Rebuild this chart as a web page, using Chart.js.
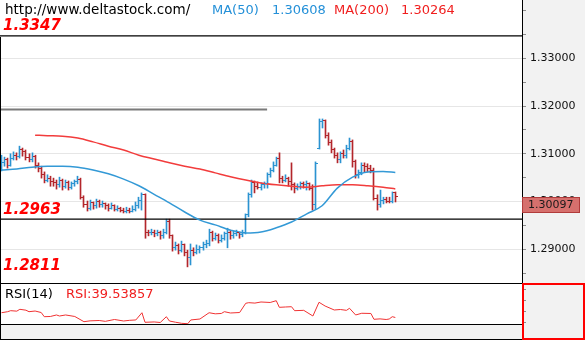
<!DOCTYPE html>
<html>
<head>
<meta charset="utf-8">
<script src="https://cdn.jsdelivr.net/npm/chart.js@4.4.1/dist/chart.umd.min.js"></script>
<style>
  html, body { margin: 0; padding: 0; background: #fff; }
  #wrap { position: relative; width: 585px; height: 340px; }
  #priceChart { position: absolute; left: 0; top: 0; }
  #rsiChart { position: absolute; left: 0; top: 283px; }
</style>
</head>
<body>
<div id="wrap">
  <canvas id="priceChart" width="585" height="283"></canvas>
  <canvas id="rsiChart" width="585" height="57"></canvas>
</div>
<script>
// OHLC bars, one per slot (index 0..129)
const opens = [
  1.3072,1.3081,1.3087,1.3076,1.3091,1.3097,1.3095,1.3108,1.3104,1.3093,
  1.3087,1.3095,1.3076,1.3070,1.3056,1.3045,1.3049,1.3041,1.3039,1.3035,
  1.3043,1.3032,1.3039,1.3030,1.3037,1.3041,1.3047,1.3009,1.2993,1.2986,
  1.2997,1.2991,1.2999,1.2993,1.2995,1.2991,1.2986,1.2991,1.2984,1.2986,
  1.2982,1.2980,1.2982,1.2980,1.2984,1.2991,1.3003,1.3014,1.2936,1.2934,
  1.2936,1.2932,1.2934,1.2928,1.2936,1.2959,1.2928,1.2903,1.2907,1.2898,
  1.2909,1.2894,1.2882,1.2898,1.2894,1.2900,1.2903,1.2909,1.2913,1.2936,
  1.2923,1.2928,1.2919,1.2923,1.2932,1.2936,1.2928,1.2932,1.2934,1.2930,
  1.2936,1.2972,1.3014,1.3039,1.3032,1.3030,1.3035,1.3037,1.3056,1.3066,
  1.3076,1.3091,1.3049,1.3045,1.3049,1.3041,1.3035,1.3028,1.3032,1.3037,
  1.3035,1.3037,1.3028,1.2993,1.3112,1.3167,1.3169,1.3139,1.3123,1.3108,
  1.3097,1.3087,1.3100,1.3097,1.3112,1.3125,1.3083,1.3056,1.3060,1.3076,
  1.3074,1.3070,1.3066,1.3007,1.2993,1.3003,1.3005,1.3001,1.2999,1.3018
];
const highs = [
  1.3097,1.3093,1.3091,1.3100,1.3104,1.3102,1.3116,1.3112,1.3108,1.3100,
  1.3102,1.3097,1.3081,1.3074,1.3062,1.3056,1.3053,1.3049,1.3045,1.3051,
  1.3047,1.3045,1.3043,1.3041,1.3045,1.3053,1.3049,1.3012,1.3001,1.3003,
  1.2999,1.3005,1.3003,1.3001,1.2997,1.2995,1.2997,1.2993,1.2991,1.2988,
  1.2986,1.2988,1.2986,1.2991,1.2999,1.3009,1.3018,1.3016,1.2940,1.2942,
  1.2940,1.2940,1.2938,1.2942,1.2963,1.2963,1.2930,1.2915,1.2911,1.2917,
  1.2911,1.2898,1.2911,1.2903,1.2909,1.2907,1.2915,1.2919,1.2942,1.2938,
  1.2934,1.2932,1.2930,1.2936,1.2944,1.2940,1.2938,1.2940,1.2936,1.2940,
  1.2974,1.3018,1.3045,1.3043,1.3041,1.3039,1.3041,1.3060,1.3070,1.3083,
  1.3093,1.3102,1.3053,1.3056,1.3051,1.3081,1.3039,1.3037,1.3041,1.3041,
  1.3043,1.3039,1.3035,1.3083,1.3173,1.3173,1.3171,1.3144,1.3129,1.3112,
  1.3102,1.3104,1.3108,1.3118,1.3133,1.3129,1.3087,1.3066,1.3081,1.3081,
  1.3079,1.3076,1.3070,1.3014,1.3024,1.3009,1.3009,1.3009,1.3020,1.3020
];
const lows = [
  1.3064,1.3074,1.3070,1.3074,1.3087,1.3087,1.3091,1.3095,1.3087,1.3083,
  1.3083,1.3070,1.3062,1.3049,1.3039,1.3041,1.3032,1.3032,1.3026,1.3030,
  1.3024,1.3028,1.3024,1.3026,1.3032,1.3037,1.3005,1.2988,1.2980,1.2982,
  1.2984,1.2986,1.2988,1.2988,1.2984,1.2980,1.2984,1.2980,1.2980,1.2978,
  1.2976,1.2976,1.2976,1.2978,1.2980,1.2986,1.2982,1.2923,1.2928,1.2930,
  1.2926,1.2928,1.2921,1.2923,1.2932,1.2923,1.2896,1.2898,1.2890,1.2894,
  1.2886,1.2863,1.2867,1.2886,1.2890,1.2892,1.2898,1.2903,1.2907,1.2917,
  1.2919,1.2913,1.2915,1.2919,1.2903,1.2921,1.2923,1.2928,1.2923,1.2926,
  1.2932,1.2968,1.3009,1.3018,1.3026,1.3024,1.3028,1.3028,1.3051,1.3062,
  1.3074,1.3039,1.3039,1.3041,1.3032,1.3024,1.3018,1.3024,1.3026,1.3028,
  1.3024,1.3024,1.2982,1.2984,1.3110,1.3154,1.3133,1.3118,1.3102,1.3091,
  1.3081,1.3081,1.3091,1.3091,1.3108,1.3072,1.3049,1.3049,1.3056,1.3062,
  1.3062,1.3060,1.3003,1.2982,1.2988,1.2995,1.2997,1.2997,1.2997,1.2999
];
const closes = [
  1.3081,1.3087,1.3076,1.3091,1.3097,1.3095,1.3108,1.3104,1.3093,1.3087,
  1.3095,1.3076,1.3070,1.3056,1.3045,1.3049,1.3041,1.3039,1.3035,1.3043,
  1.3032,1.3039,1.3030,1.3037,1.3041,1.3047,1.3009,1.2993,1.2986,1.2997,
  1.2991,1.2999,1.2993,1.2995,1.2991,1.2986,1.2991,1.2984,1.2986,1.2982,
  1.2980,1.2982,1.2980,1.2984,1.2991,1.3003,1.3014,1.2936,1.2934,1.2936,
  1.2932,1.2934,1.2928,1.2936,1.2959,1.2928,1.2903,1.2907,1.2898,1.2909,
  1.2894,1.2882,1.2898,1.2894,1.2900,1.2903,1.2909,1.2913,1.2936,1.2923,
  1.2928,1.2919,1.2923,1.2932,1.2936,1.2928,1.2932,1.2934,1.2930,1.2936,
  1.2972,1.3014,1.3039,1.3032,1.3030,1.3035,1.3037,1.3056,1.3066,1.3076,
  1.3091,1.3049,1.3045,1.3049,1.3041,1.3035,1.3028,1.3032,1.3037,1.3035,
  1.3037,1.3028,1.2993,1.3079,1.3167,1.3169,1.3139,1.3123,1.3108,1.3097,
  1.3087,1.3100,1.3097,1.3112,1.3125,1.3083,1.3056,1.3060,1.3076,1.3074,
  1.3070,1.3066,1.3007,1.2993,1.3003,1.3005,1.3001,1.2999,1.3018,1.30097
];

// moving averages, sampled every few bars
const ma50Idx = [0,5,10,15,20,25,30,35,40,45,50,55,60,65,70,75,80,85,90,95,100,105,110,115,120,125,129];
const ma50 = [1.3066,1.3068,1.3072,1.3074,1.3074,1.3072,1.3066,1.3058,1.3047,1.3033,1.3015,1.2997,1.2978,1.2961,1.2951,1.2940,1.2934,1.2936,1.2945,1.2957,1.2974,1.2991,1.3028,1.3051,1.3062,1.3063,1.30608];
const ma200Idx = [11,15,20,25,30,35,40,45,50,55,60,65,70,75,80,85,90,95,100,105,110,115,120,125,129];
const ma200 = [1.3139,1.3138,1.3137,1.3133,1.3125,1.3116,1.3108,1.3097,1.3089,1.3081,1.3074,1.3068,1.3060,1.3052,1.3045,1.3039,1.3035,1.3032,1.3030,1.3033,1.3035,1.3035,1.3033,1.3030,1.30264];

// RSI(14)
const rsiIdx = [0,2,3,5,6,8,9,11,13,14,16,18,19,21,24,27,29,32,34,37,40,42,44,46,47,50,52,54,55,57,59,61,62,65,68,70,72,73,75,78,80,81,83,85,88,90,91,93,95,96,99,102,104,106,109,111,113,114,116,118,121,122,124,126,127,128,129];
const rsiVal = [46.5,48.0,49.5,48.8,51.5,50.2,48.0,49.0,46.8,40.7,41.0,43.2,41.7,43.2,41.0,33.4,34.6,35.1,33.9,36.6,34.4,35.4,35.9,46.5,32.5,33.0,32.2,40.7,34.4,32.6,31.0,30.4,35.9,37.3,46.5,44.9,45.4,48.0,46.1,46.8,60.3,61.2,60.6,62.2,61.5,64.1,54.4,54.9,55.3,49.5,50.0,41.7,61.8,56.3,50.5,51.2,50.0,53.0,43.2,45.7,45.4,36.9,37.5,36.6,37.3,40.7,39.53857];

// support / resistance levels
const levels = [1.3347, 1.2963, 1.2811];
const oldResistance = 1.3193;
const oldResistanceEnd = 87;

const BLUE = '#2b93d1';
const RED = '#b3262b';
const SLOTS_MIN = -0.5, SLOTS_MAX = 170.5;
const last = closes.length - 1;

const barData = closes.map((c, i) => ({ x: i, y: [lows[i], highs[i]] }));
const barColors = closes.map((c, i) => c >= opens[i] ? BLUE : RED);
const pairs = (idx, vals) => idx.map((x, i) => ({ x: x, y: vals[i] }));
const hLine = (price, from, to) => [{ x: from, y: price }, { x: to, y: price }];

const isMajor = v => Math.abs(v * 100 - Math.round(v * 100)) < 1e-6 && v < 1.335;
const snap = x => Math.floor(x) + 0.5;

// keeps the 1px high-low sticks on whole pixels, then adds open/close ticks
const ohlcTicks = {
  id: 'ohlcTicks',
  beforeDatasetsDraw(chart) {
    chart.getDatasetMeta(0).data.forEach(el => { el.x = snap(el.x); });
  },
  afterDatasetsDraw(chart) {
    const xs = chart.scales.x, ys = chart.scales.y, ctx = chart.ctx;
    ctx.save();
    for (let i = 0; i < closes.length; i++) {
      const x = snap(xs.getPixelForValue(i));
      ctx.fillStyle = barColors[i];
      ctx.fillRect(x - 2.5, Math.floor(ys.getPixelForValue(opens[i])), 2, 1);
      ctx.fillRect(x + 0.5, Math.floor(ys.getPixelForValue(closes[i])), 2, 1);
    }
    ctx.restore();
  }
};

const priceDecor = {
  id: 'priceDecor',
  beforeDraw(chart) {
    const ctx = chart.ctx, a = chart.chartArea;
    ctx.save();
    ctx.fillStyle = '#f2f2f2';
    ctx.fillRect(a.right, 0, chart.width - a.right, chart.height);
    ctx.restore();
  },
  afterDraw(chart) {
    const ctx = chart.ctx, a = chart.chartArea, ys = chart.scales.y;
    ctx.save();
    // left frame
    ctx.strokeStyle = '#000';
    ctx.lineWidth = 1;
    ctx.beginPath();
    ctx.moveTo(0.5, 37);
    ctx.lineTo(0.5, a.bottom);
    ctx.stroke();

    // header
    ctx.textBaseline = 'alphabetic';
    ctx.font = '13.5px "DejaVu Sans"';
    ctx.fillStyle = '#000';
    ctx.fillText('http://www.deltastock.com/', 5, 14);
    ctx.font = '13px "DejaVu Sans"';
    ctx.fillStyle = '#2490d8';
    ctx.fillText('MA(50)', 212, 14);
    ctx.fillText(ma50[ma50.length - 1].toFixed(5), 272, 14);
    ctx.fillStyle = '#f01e1e';
    ctx.fillText('MA(200)', 334, 14);
    ctx.fillText(ma200[ma200.length - 1].toFixed(5), 401, 14);

    // level captions
    ctx.font = 'italic bold 15px "DejaVu Sans"';
    ctx.fillStyle = '#ff0000';
    levels.forEach(p => {
      const y = Math.min(ys.getPixelForValue(p) - 5.5, a.bottom - 13);
      ctx.fillText(p.toFixed(4), 3, y);
    });

    // last price tag
    const ty = Math.round(ys.getPixelForValue(closes[last])) + 0.5;
    ctx.fillStyle = '#d6706d';
    ctx.strokeStyle = '#b13b3b';
    ctx.fillRect(a.right + 0.5, ty, 57, 15);
    ctx.strokeRect(a.right + 0.5, ty, 57, 15);
    ctx.font = '11px "DejaVu Sans"';
    ctx.fillStyle = '#1a1a1a';
    ctx.textBaseline = 'middle';
    ctx.fillText(closes[last].toFixed(5), a.right + 6, ty + 8);
    ctx.restore();
  }
};

new Chart(document.getElementById('priceChart'), {
  data: {
    datasets: [
      { type: 'bar', data: barData, backgroundColor: barColors, barThickness: 1, grouped: false, order: 5 },
      { type: 'line', data: pairs(ma200Idx, ma200), borderColor: '#f23c3c', borderWidth: 1.5,
        pointRadius: 0, cubicInterpolationMode: 'monotone', order: 2 },
      { type: 'line', data: pairs(ma50Idx, ma50), borderColor: '#3399d6', borderWidth: 1.5,
        pointRadius: 0, cubicInterpolationMode: 'monotone', order: 1 },
      { type: 'line', data: hLine(oldResistance, SLOTS_MIN, oldResistanceEnd), borderColor: '#7a7a7a',
        borderWidth: 2, pointRadius: 0, order: 3 },
      ...levels.map(p => ({ type: 'line', data: hLine(p, SLOTS_MIN, SLOTS_MAX), borderColor: '#000',
        borderWidth: 1.2, pointRadius: 0, order: 3 }))
    ]
  },
  options: {
    responsive: false,
    animation: false,
    events: [],
    layout: { padding: 0 },
    plugins: { legend: { display: false }, tooltip: { enabled: false } },
    scales: {
      x: { type: 'linear', min: SLOTS_MIN, max: SLOTS_MAX, offset: false, display: false },
      y: {
        position: 'right',
        min: 1.28292,
        max: 1.34223,
        afterFit(s) { s.width = 63; s.paddingTop = 0; s.paddingBottom = 0; },
        ticks: {
          stepSize: 0.0025,
          includeBounds: false,
          padding: 4,
          color: '#111',
          font: { family: 'DejaVu Sans', size: 11 },
          callback: v => isMajor(v) ? v.toFixed(5) : ''
        },
        grid: {
          color: c => (c.tick && isMajor(c.tick.value)) ? '#e6e6e6' : 'rgba(0,0,0,0)',
          tickColor: '#8c8c8c',
          tickLength: 4
        },
        border: { display: true, color: '#000', width: 1 }
      }
    }
  },
  plugins: [ohlcTicks, priceDecor]
});

const rsiDecor = {
  id: 'rsiDecor',
  beforeDraw(chart) {
    const ctx = chart.ctx, a = chart.chartArea;
    ctx.save();
    ctx.fillStyle = '#f2f2f2';
    ctx.fillRect(a.right, 0, chart.width - a.right, chart.height);
    ctx.fillRect(0, a.bottom, a.right, chart.height - a.bottom);
    ctx.restore();
  },
  afterDraw(chart) {
    const ctx = chart.ctx, a = chart.chartArea;
    ctx.save();
    ctx.strokeStyle = '#000';
    ctx.lineWidth = 1;
    ctx.beginPath();
    ctx.moveTo(0, 0.5); ctx.lineTo(a.right, 0.5);
    ctx.moveTo(0, a.bottom + 0.5); ctx.lineTo(a.right, a.bottom + 0.5);
    ctx.moveTo(0, chart.height - 0.5); ctx.lineTo(a.right, chart.height - 0.5);
    ctx.moveTo(0.5, 0); ctx.lineTo(0.5, chart.height);
    ctx.stroke();

    ctx.strokeStyle = '#ff0000';
    ctx.lineWidth = 2;
    ctx.strokeRect(a.right + 1, 1, chart.width - a.right - 2, chart.height - 2);

    ctx.font = '13px "DejaVu Sans"';
    ctx.textBaseline = 'alphabetic';
    ctx.fillStyle = '#000';
    ctx.fillText('RSI(14)', 5, 14.5);
    ctx.fillStyle = '#f01e1e';
    ctx.fillText('RSI:' + rsiVal[rsiVal.length - 1].toFixed(5), 66, 14.5);
    ctx.restore();
  }
};

new Chart(document.getElementById('rsiChart'), {
  type: 'line',
  data: {
    datasets: [{
      data: pairs(rsiIdx, rsiVal),
      borderColor: '#f03232',
      borderWidth: 1,
      pointRadius: 0,
      tension: 0
    }]
  },
  options: {
    responsive: false,
    animation: false,
    events: [],
    layout: { padding: { top: 0, left: 0, right: 0, bottom: 16 } },
    plugins: { legend: { display: false }, tooltip: { enabled: false } },
    scales: {
      x: { type: 'linear', min: SLOTS_MIN, max: SLOTS_MAX, display: false },
      y: {
        position: 'right',
        min: 30,
        max: 90,
        afterFit(s) { s.width = 63; s.paddingTop = 0; s.paddingBottom = 0; },
        ticks: { stepSize: 16, display: false, includeBounds: false },
        grid: { drawOnChartArea: false, tickColor: '#8c8c8c', tickLength: 4 },
        border: { display: false }
      }
    }
  },
  plugins: [rsiDecor]
});
</script>
</body>
</html>
